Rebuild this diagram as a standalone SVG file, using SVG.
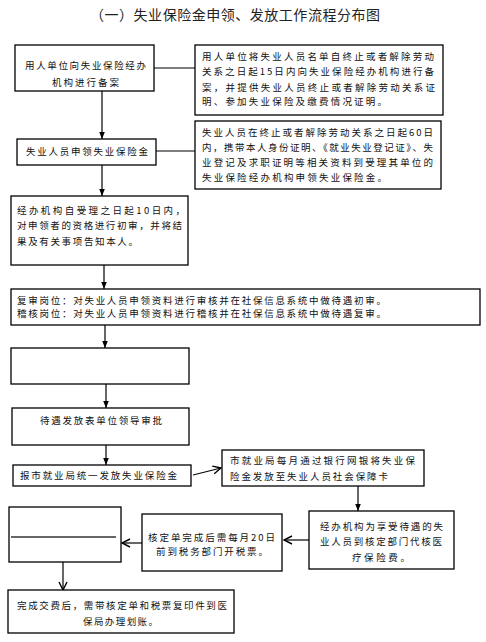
<svg xmlns="http://www.w3.org/2000/svg" width="486" height="642" viewBox="0 0 486 642">
<defs>
<style>
.b{fill:#fff;stroke:#000;stroke-width:1.3}
.t{font-family:"Noto Sans CJK SC","Noto Sans",sans-serif;font-size:9.5px;fill:#111}
.c{stroke:#000;stroke-width:1.2;fill:none}
.ti{font-family:"Noto Sans CJK SC","Noto Sans",sans-serif;font-size:14px;fill:#222}
</style>
<marker id="af" viewBox="0 0 10 10" refX="10" refY="5" markerWidth="7" markerHeight="7" orient="auto" markerUnits="userSpaceOnUse"><path d="M0,1 L10,5 L0,9 Z" fill="#000"/></marker>
<marker id="ao" viewBox="0 0 10 10" refX="9" refY="5" markerWidth="10" markerHeight="10" orient="auto" markerUnits="userSpaceOnUse"><path d="M1,1 L9,5 L1,9" fill="none" stroke="#000" stroke-width="1.4"/></marker>
</defs>
<rect width="486" height="642" fill="#fff"/>
<text class="ti" x="90" y="20" textLength="290" lengthAdjust="spacing">（一）失业保险金申领、发放工作流程分布图</text>

<g id="connectors">
<line class="c" x1="154" y1="68" x2="195" y2="68"/>
<line class="c" x1="102" y1="91" x2="102" y2="139" marker-end="url(#af)"/>
<line class="c" x1="156" y1="151" x2="195" y2="151"/>
<line class="c" x1="102" y1="165" x2="102" y2="196" marker-end="url(#af)"/>
<line class="c" x1="104" y1="265" x2="104" y2="289" marker-end="url(#af)"/>
<line class="c" x1="105" y1="325" x2="105" y2="348" marker-end="url(#af)"/>
<line class="c" x1="106" y1="384" x2="106" y2="408" marker-end="url(#af)"/>
<line class="c" x1="106" y1="445" x2="106" y2="465" marker-end="url(#af)"/>
<line class="c" x1="193" y1="475" x2="221" y2="468" marker-end="url(#ao)"/>
<line class="c" x1="358" y1="486" x2="358" y2="511" marker-end="url(#af)"/>
<line class="c" x1="309" y1="540" x2="284" y2="540" marker-end="url(#ao)"/>
<line class="c" x1="142" y1="543" x2="122" y2="543" marker-end="url(#ao)"/>
<line class="c" x1="63" y1="562" x2="63" y2="590" marker-end="url(#ao)"/>
</g>

<g id="n1"><rect class="b" x="15" y="45" width="139" height="46"/>
<text class="t" x="25" y="69" textLength="121" lengthAdjust="spacing">用人单位向失业保险经办</text>
<text class="t" x="52" y="86" textLength="67" lengthAdjust="spacing">机构进行备案</text></g>

<g id="n2"><rect class="b" x="195" y="45" width="248" height="70"/>
<text class="t" x="202" y="60" textLength="232" lengthAdjust="spacing">用人单位将失业人员名单自终止或者解除劳动</text>
<text class="t" x="202" y="75" textLength="232" lengthAdjust="spacing">关系之日起15日内向失业保险经办机构进行备</text>
<text class="t" x="202" y="91" textLength="233" lengthAdjust="spacing">案，并提供失业人员终止或者解除劳动关系证</text>
<text class="t" x="202" y="105" textLength="185" lengthAdjust="spacing">明、参加失业保险及缴费情况证明。</text></g>

<g id="n3"><rect class="b" x="17" y="139" width="139" height="26"/>
<text class="t" x="26" y="155" textLength="122" lengthAdjust="spacing">失业人员申领失业保险金</text></g>

<g id="n4"><rect class="b" x="195" y="121" width="246" height="68"/>
<text class="t" x="202" y="136" textLength="231" lengthAdjust="spacing">失业人员在终止或者解除劳动关系之日起60日</text>
<text class="t" x="202" y="151" textLength="231" lengthAdjust="spacing">内，携带本人身份证明、《就业失业登记证》、失</text>
<text class="t" x="202" y="166" textLength="231" lengthAdjust="spacing">业登记及求职证明等相关资料到受理其单位的</text>
<text class="t" x="202" y="181" textLength="185" lengthAdjust="spacing">失业保险经办机构申领失业保险金。</text></g>

<g id="n5"><rect class="b" x="11" y="196" width="177" height="69"/>
<text class="t" x="17" y="214" textLength="168" lengthAdjust="spacing">经办机构自受理之日起10日内，</text>
<text class="t" x="17" y="229" textLength="165" lengthAdjust="spacing">对申领者的资格进行初审，并将结</text>
<text class="t" x="17" y="245" textLength="121" lengthAdjust="spacing">果及有关事项告知本人。</text></g>

<g id="n6"><rect class="b" x="11" y="289" width="469" height="36"/>
<text class="t" x="17" y="304" textLength="369" lengthAdjust="spacing">复审岗位：对失业人员申领资料进行审核并在社保信息系统中做待遇初审。</text>
<text class="t" x="17" y="317" textLength="369" lengthAdjust="spacing">稽核岗位：对失业人员申领资料进行稽核并在社保信息系统中做待遇复审。</text></g>

<g id="n7"><rect class="b" x="11" y="348" width="178" height="36"/></g>

<g id="n8"><rect class="b" x="12" y="408" width="177" height="37"/>
<text class="t" x="40" y="424" textLength="122" lengthAdjust="spacing">待遇发放表单位领导审批</text></g>

<g id="n9"><rect class="b" x="13" y="465" width="178" height="21"/>
<text class="t" x="20" y="479" textLength="157" lengthAdjust="spacing">报市就业局统一发放失业保险金</text></g>

<g id="n10"><rect class="b" x="222" y="450" width="202" height="36"/>
<text class="t" x="230" y="464" textLength="185" lengthAdjust="spacing">市就业局每月通过银行网银将失业保</text>
<text class="t" x="230" y="480" textLength="158" lengthAdjust="spacing">险金发放至失业人员社会保障卡</text></g>

<g id="n11"><rect class="b" x="309" y="511" width="145" height="58"/>
<text class="t" x="320" y="530" textLength="123" lengthAdjust="spacing">经办机构为享受待遇的失</text>
<text class="t" x="320" y="545" textLength="122" lengthAdjust="spacing">业人员到核定部门代核医</text>
<text class="t" x="352" y="561" textLength="58" lengthAdjust="spacing">疗保险费。</text></g>

<g id="n12"><rect class="b" x="142" y="514" width="140" height="57"/>
<text class="t" x="148" y="541" textLength="127" lengthAdjust="spacing">核定单完成后需每月20日</text>
<text class="t" x="156" y="555" textLength="112" lengthAdjust="spacing">前到税务部门开税票。</text></g>

<g id="n13"><rect class="b" x="9" y="507" width="112" height="55"/>
<line x1="11" y1="537" x2="116" y2="537" stroke="#333" stroke-width="1.5"/></g>

<g id="n14"><rect class="b" x="8" y="590" width="226" height="43"/>
<text class="t" x="17" y="609" textLength="210" lengthAdjust="spacing">完成交费后，需带核定单和税票复印件到医</text>
<text class="t" x="83" y="625" textLength="75" lengthAdjust="spacing">保局办理划账。</text></g>
</svg>
